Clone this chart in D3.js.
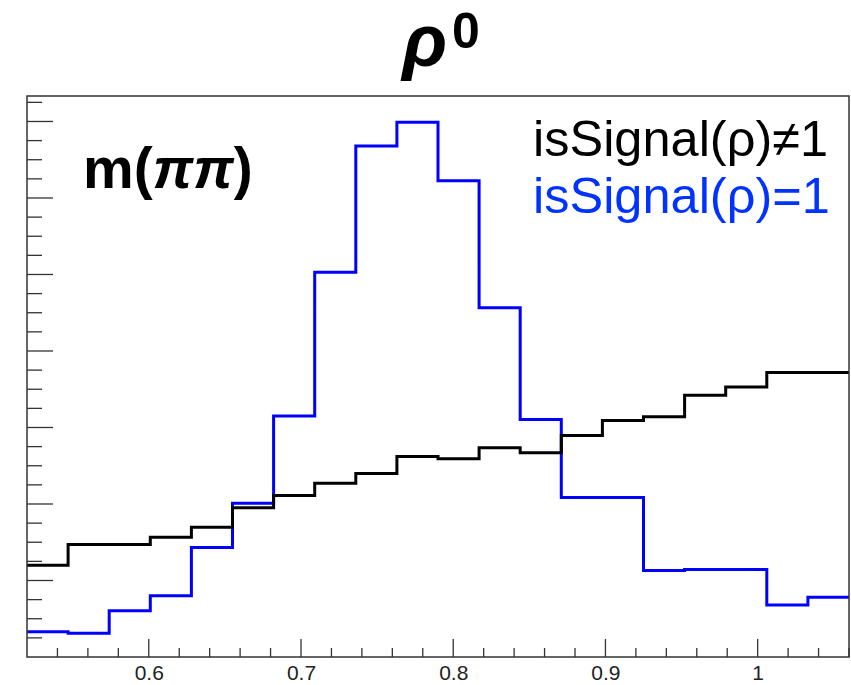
<!DOCTYPE html>
<html>
<head>
<meta charset="utf-8">
<script src="https://cdn.jsdelivr.net/npm/d3@7"></script>
<style>
  html, body { margin: 0; padding: 0; background: #fff; }
  svg { display: block; }
</style>
</head>
<body>
<svg id="chart" width="851" height="685"></svg>
<script>
// ---- data ----
const binEdges = [0.520, 0.547, 0.574, 0.601, 0.628, 0.655, 0.682, 0.709, 0.736, 0.763, 0.790,
                  0.817, 0.844, 0.871, 0.898, 0.925, 0.952, 0.979, 1.006, 1.033, 1.060];
const notSignal = [120, 147, 147, 156.5, 169.5, 195, 211, 227, 240, 262, 259, 273.5, 267, 289.5, 309, 314, 342, 353, 372, 372];
const isSignal  = [33, 31, 60.5, 80, 143, 201, 315, 503, 668, 699, 622.5, 456.5, 310.5, 208.5, 208.5, 113, 114.5, 114.5, 68, 78];
const xTickLabels = ["0.6", "0.7", "0.8", "0.9", "1"];
const xTickValues = [0.6, 0.7, 0.8, 0.9, 1.0];
const legendLabels = ["isSignal(ρ)≠1", "isSignal(ρ)=1"];
const seriesColors = ["#000000", "#0000ff"];
const legendColors = ["#000000", "#0033ff"];

// ---- layout ----
const L = 27, R = 849, T = 96, B = 657;
const svg = d3.select("#chart");
const x = d3.scaleLinear().domain([0.52, 1.06]).range([L, R]);
const y = d3.scaleLinear().domain([0, 733.3]).range([B, T]);

// histogram step paths
function stepPoints(vals) {
  const pts = [];
  vals.forEach((v, i) => {
    pts.push([binEdges[i], v]);
    pts.push([binEdges[i + 1], v]);
  });
  return pts;
}
const line = d3.line().x(d => x(d[0])).y(d => y(d[1]));

const plot = svg.append("g");
plot.append("path").datum(stepPoints(isSignal))
  .attr("d", line).attr("fill", "none")
  .attr("stroke", seriesColors[1]).attr("stroke-width", 3);
plot.append("path").datum(stepPoints(notSignal))
  .attr("d", line).attr("fill", "none")
  .attr("stroke", seriesColors[0]).attr("stroke-width", 3);

// frame
svg.append("rect").attr("x", L).attr("y", T).attr("width", R - L).attr("height", B - T)
  .attr("fill", "none").attr("stroke", "#333").attr("stroke-width", 1.5);

// x axis ticks (inside)
const xMinor = d3.range(0.54, 1.061, 0.02).map(v => +v.toFixed(2));
const axisCol = "#333";
xMinor.forEach(v => {
  const isMajor = xTickValues.some(t => Math.abs(t - v) < 1e-6);
  svg.append("line").attr("x1", x(v)).attr("x2", x(v))
    .attr("y1", B).attr("y2", B - (isMajor ? 18 : 9))
    .attr("stroke", axisCol).attr("stroke-width", 1.3);
});
const xAxisG = svg.append("g").attr("transform", `translate(0,${B})`);
const xAxis = d3.axisBottom(x).tickValues(xTickValues)
  .tickFormat((d, i) => xTickLabels[i]).tickSize(0).tickPadding(8);
xAxisG.call(xAxis);
xAxisG.select(".domain").remove();
xAxisG.selectAll("text").attr("font-family", "Liberation Sans, Arial, sans-serif")
  .attr("font-size", 21).attr("fill", "#222").attr("dy", "0.71em");

// y axis ticks (inside, no labels)
const yMinor = d3.range(0, 733, 25);
yMinor.forEach(v => {
  if (v === 0) return;
  const isMajor = v % 100 === 0;
  svg.append("line").attr("x1", L).attr("x2", L + (isMajor ? 26 : 15))
    .attr("y1", y(v)).attr("y2", y(v))
    .attr("stroke", axisCol).attr("stroke-width", 1.3);
});

// title
const title = svg.append("text").attr("x", 441).attr("y", 66)
  .attr("text-anchor", "middle")
  .attr("font-family", "Liberation Sans, Arial, sans-serif")
  .attr("font-weight", "bold");
title.append("tspan").attr("font-style", "italic").attr("font-size", 74).text("ρ");
title.append("tspan").attr("font-size", 50).attr("dy", -18).attr("dx", 5).text("0");

// m(pi pi) label
const ml = svg.append("text").attr("x", 83).attr("y", 188)
  .attr("font-family", "Liberation Sans, Arial, sans-serif")
  .attr("font-weight", "bold").attr("font-size", 57).attr("fill", "#000");
ml.append("tspan").text("m(");
ml.append("tspan").attr("font-style", "italic").text("ππ");
ml.append("tspan").text(")");

// legend
legendLabels.forEach((lab, i) => {
  svg.append("text").attr("x", 533).attr("y", 156 + i * 57)
    .attr("font-family", "Liberation Sans, Arial, sans-serif")
    .attr("font-size", 50.5).attr("fill", legendColors[i]).text(lab);
});
</script>
</body>
</html>
